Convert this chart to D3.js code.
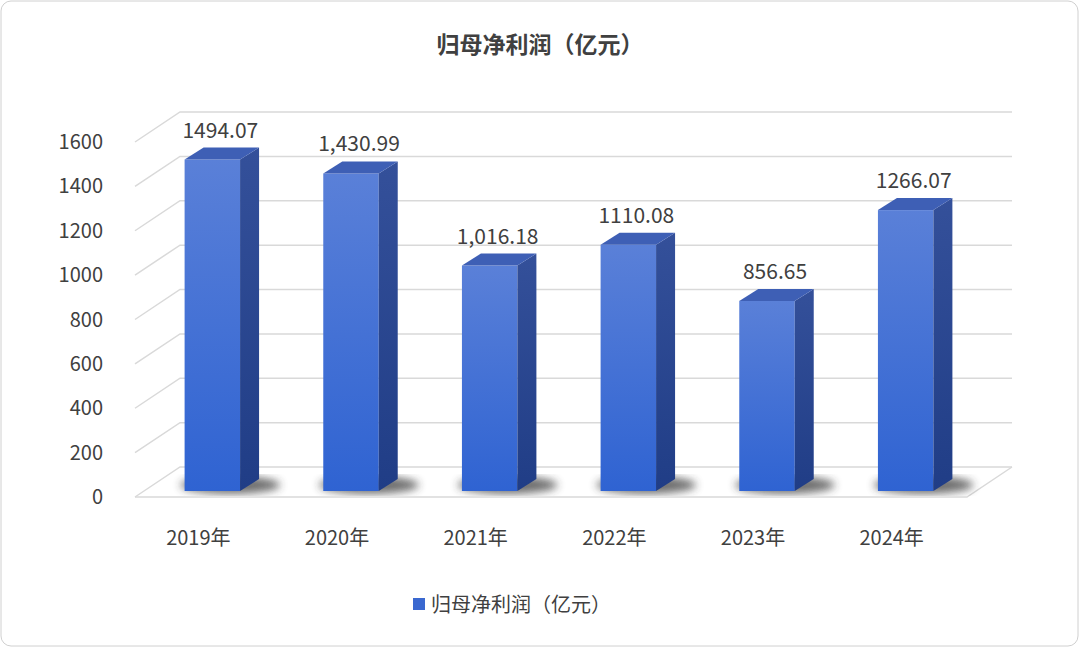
<!DOCTYPE html>
<html><head><meta charset="utf-8">
<script src="https://cdn.jsdelivr.net/npm/d3@7"></script>
<style>body{margin:0;background:#fff}svg{font-family:"Noto Sans CJK SC","Noto Sans",sans-serif}</style>
</head><body>
<svg id="c" width="1080" height="648"></svg>
<script>
var years = ["2019年","2020年","2021年","2022年","2023年","2024年"];
var profit = [1494.07, 1430.99, 1016.18, 1110.08, 856.65, 1266.07];
var labels = ["1494.07","1,430.99","1,016.18","1110.08","856.65","1266.07"];
var ticks = [0,200,400,600,800,1000,1200,1400,1600];

var svg = d3.select("#c");
var defs = svg.append("defs");
var g1 = defs.append("linearGradient").attr("id","front").attr("x1",0).attr("y1",0).attr("x2",0).attr("y2",1);
g1.append("stop").attr("offset","0%").attr("stop-color","#5a80d8");
g1.append("stop").attr("offset","100%").attr("stop-color","#2f63d2");
var g2 = defs.append("linearGradient").attr("id","side").attr("x1",0).attr("y1",0).attr("x2",0).attr("y2",1);
g2.append("stop").attr("offset","0%").attr("stop-color","#34509a");
g2.append("stop").attr("offset","100%").attr("stop-color","#203d86");
defs.append("filter").attr("id","blur").append("feGaussianBlur").attr("stdDeviation",4);

svg.append("rect").attr("x",1).attr("y",1).attr("width",1077).attr("height",645).attr("rx",10)
  .attr("fill","#fff").attr("stroke","#d0d0d0");

// wall geometry
var dx = 45, dy = -30;
var y = d3.scaleLinear().domain([0,1600]).range([497,142]);
var xl = 135, xr = 967;
var x = d3.scaleBand().domain(years).range([xl, xr]).paddingInner(0.6).paddingOuter(0.3);

ticks.forEach(function(t){
  svg.append("path").attr("fill","none").attr("stroke","#d9d9d9").attr("stroke-width",1.5)
    .attr("d","M"+xl+","+y(t)+"L"+(xl+dx)+","+(y(t)+dy)+"L"+(xr+dx)+","+(y(t)+dy));
  svg.append("text").attr("x",103).attr("y",y(t)+7).attr("text-anchor","end")
    .attr("font-size",20).attr("fill","#404040").text(t);
});
// floor
svg.append("path").attr("fill","none").attr("stroke","#d9d9d9").attr("stroke-width",1.5)
  .attr("d","M"+xl+","+y(0)+"L"+xr+","+y(0)+"L"+(xr+dx)+","+(y(0)+dy));

var bw = x.bandwidth(), sd = 19, st = -12;
var base = y(0) - 6;
var k = (y(0)-y(1600))/1600;
profit.forEach(function(v,i){
  var x0 = x(years[i]) + 8, top = base - v*k;
  svg.append("ellipse").attr("cx",x0+bw/2+18).attr("cy",base-6).attr("rx",bw/2+22).attr("ry",9)
    .attr("fill","#333").attr("opacity",0.7).attr("filter","url(#blur)");
  svg.append("rect").attr("x",x0).attr("y",top).attr("width",bw).attr("height",base-top).attr("fill","url(#front)");
  svg.append("path").attr("fill","url(#side)")
    .attr("d","M"+(x0+bw)+","+top+"l"+sd+","+st+"V"+(base+st)+"l"+(-sd)+","+(-st)+"Z");
  svg.append("path").attr("fill","#3e5fb5")
    .attr("d","M"+x0+","+top+"l"+sd+","+st+"h"+bw+"l"+(-sd)+","+(-st)+"Z");
  svg.append("text").attr("x",x0+bw/2+8).attr("y",top-22).attr("text-anchor","middle")
    .attr("font-size",21).attr("fill","#404040").text(labels[i]);
  svg.append("text").attr("x",x0+bw/2-14).attr("y",545).attr("text-anchor","middle")
    .attr("font-size",20).attr("fill","#404040").text(years[i]);
});

svg.append("text").attr("x",540).attr("y",53).attr("text-anchor","middle").attr("font-size",23)
  .attr("font-weight","bold").attr("fill","#404040").text("归母净利润（亿元）");
svg.append("rect").attr("x",413).attr("y",598).attr("width",12).attr("height",12).attr("fill","#3a68d0");
svg.append("text").attr("x",431).attr("y",612).attr("font-size",20).attr("fill","#404040").text("归母净利润（亿元）");
</script>
</body></html>
